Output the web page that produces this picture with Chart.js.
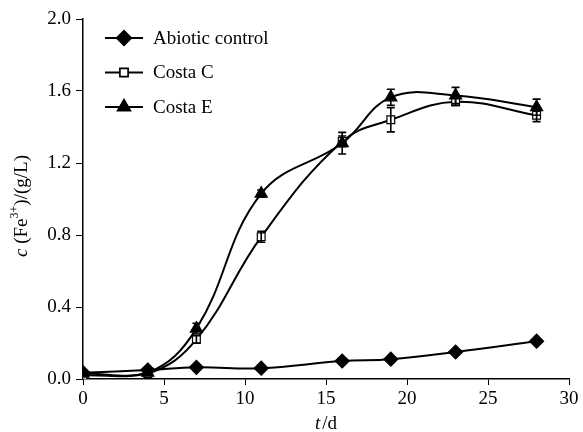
<!DOCTYPE html>
<html>
<head>
<meta charset="utf-8">
<script src="https://cdn.jsdelivr.net/npm/chart.js@4"></script>
<style>
  html, body { margin: 0; padding: 0; background: #fff; }
  #wrap { width: 583px; height: 432px; }
</style>
</head>
<body>
<div id="wrap"><canvas id="chart"></canvas></div>
<script>
// sampling days
const days = [0, 4, 7, 11, 16, 19, 23, 28];

// Fe3+ concentration, g/L
const abiotic = [0.035, 0.05, 0.065, 0.06, 0.10, 0.11, 0.15, 0.21];
const costaC = [0.02, 0.03, 0.22, 0.79, 1.32, 1.44, 1.54, 1.465];
const costaE = [0.03, 0.035, 0.28, 1.03, 1.31, 1.565, 1.575, 1.51];

// error bar half-widths
const errAbiotic = [0, 0, 0, 0, 0, 0, 0, 0];
const errC = [0, 0, 0.02, 0.03, 0.03, 0.067, 0.02, 0.035];
const errE = [0, 0, 0.03, 0.02, 0.06, 0.045, 0.045, 0.045];

const seriesLabels = ["Abiotic control", "Costa C", "Costa E"];

const FONT = "'Liberation Serif', 'Times New Roman', serif";

function toPoints(vals) {
  return days.map((d, i) => ({ x: d, y: vals[i] }));
}

// error bars drawn from the scales
const errorBars = {
  id: "errorBars",
  afterDatasetsDraw(chart) {
    const ctx = chart.ctx;
    const xs = chart.scales.x, ys = chart.scales.y;
    ctx.save();
    ctx.strokeStyle = "#000";
    ctx.lineWidth = 1.6;
    chart.data.datasets.forEach(ds => {
      if (!ds.errors) return;
      ds.data.forEach((p, i) => {
        const e = ds.errors[i];
        if (!e) return;
        const px = xs.getPixelForValue(p.x);
        const top = ys.getPixelForValue(p.y + e);
        const bot = ys.getPixelForValue(p.y - e);
        ctx.beginPath();
        ctx.moveTo(px, top); ctx.lineTo(px, bot);
        ctx.moveTo(px - 4, top); ctx.lineTo(px + 4, top);
        ctx.moveTo(px - 4, bot); ctx.lineTo(px + 4, bot);
        ctx.stroke();
      });
    });
    ctx.restore();
  }
};

// legend in the top-left corner plus the axis titles
const decorations = {
  id: "decorations",
  afterDraw(chart) {
    const ctx = chart.ctx;
    const area = chart.chartArea;
    ctx.save();
    // legend
    chart.data.datasets.forEach((ds, i) => {
      const y = 38 + i * 34.5;
      ctx.strokeStyle = "#000";
      ctx.lineWidth = 2;
      ctx.beginPath();
      ctx.moveTo(105, y); ctx.lineTo(143, y);
      ctx.stroke();
      Chart.helpers.drawPoint(ctx, {
        pointStyle: ds.pointStyle,
        radius: ds.pointRadius,
        borderWidth: 1.2
      }, 124, y);
      ctx.lineWidth = 1.2;
      ctx.fillStyle = ds.pointBackgroundColor;
      ctx.strokeStyle = "#000";
      ctx.fill();
      ctx.stroke();
      ctx.fillStyle = "#000";
      ctx.font = "19px " + FONT;
      ctx.textBaseline = "middle";
      ctx.textAlign = "left";
      ctx.fillText(ds.label, 153, y + 1);
    });

    // x title: t / d
    const cx = (area.left + area.right) / 2;
    const ty = 424;
    ctx.textBaseline = "middle";
    ctx.textAlign = "left";
    ctx.font = "italic 19px " + FONT;
    const w1 = ctx.measureText("t").width;
    ctx.font = "19px " + FONT;
    const w2 = ctx.measureText("/d").width;
    let x0 = cx - (w1 + w2 + 2) / 2;
    ctx.font = "italic 19px " + FONT;
    ctx.fillText("t", x0, ty);
    ctx.font = "19px " + FONT;
    ctx.fillText("/d", x0 + w1 + 2, ty);

    // y title: c (Fe3+)/(g/L)
    ctx.translate(22, (area.top + area.bottom) / 2 + 7);
    ctx.rotate(-Math.PI / 2);
    const parts = [
      { t: "c", f: "italic 19px " + FONT, dy: 0 },
      { t: " (Fe", f: "19px " + FONT, dy: 0 },
      { t: "3+", f: "12px " + FONT, dy: -7 },
      { t: ")/(g/L)", f: "19px " + FONT, dy: 0 }
    ];
    let total = 0;
    parts.forEach(p => { ctx.font = p.f; p.w = ctx.measureText(p.t).width; total += p.w; });
    let px = -total / 2;
    parts.forEach(p => {
      ctx.font = p.f;
      ctx.fillText(p.t, px, p.dy);
      px += p.w;
    });
    ctx.restore();
  }
};

const common = {
  borderColor: "#000",
  borderWidth: 2,
  pointBorderColor: "#000",
  pointBorderWidth: 1.2,
  tension: 0.4,
  fill: false
};

new Chart(document.getElementById("chart"), {
  type: "line",
  data: {
    datasets: [
      Object.assign({}, common, {
        label: seriesLabels[0],
        data: toPoints(abiotic),
        errors: errAbiotic,
        pointStyle: "rectRot",
        pointRadius: 7,
        pointBackgroundColor: "#000",
        order: 2
      }),
      Object.assign({}, common, {
        label: seriesLabels[1],
        data: toPoints(costaC),
        errors: errC,
        pointStyle: "rect",
        pointRadius: 5.5,
        pointBackgroundColor: "#fff",
        order: 1
      }),
      Object.assign({}, common, {
        label: seriesLabels[2],
        data: toPoints(costaE),
        errors: errE,
        pointStyle: "triangle",
        pointRadius: 7,
        pointBackgroundColor: "#000",
        order: 0
      })
    ]
  },
  options: {
    responsive: true,
    maintainAspectRatio: false,
    animation: false,
    layout: { padding: { top: 19, right: 14, left: 0, bottom: 0 } },
    plugins: {
      legend: { display: false },
      tooltip: { enabled: false }
    },
    scales: {
      x: {
        type: "linear",
        min: 0,
        max: 30,
        afterFit(scale) { scale.height = 53; },
        ticks: {
          stepSize: 5,
          color: "#000",
          padding: 3,
          font: { family: FONT, size: 19 }
        },
        grid: { drawOnChartArea: false, drawTicks: true, tickLength: 6, color: "#000", lineWidth: 1 },
        border: { color: "#000", width: 1.5 }
      },
      y: {
        min: 0,
        max: 2,
        afterFit(scale) { scale.width = 83; },
        ticks: {
          stepSize: 0.4,
          color: "#000",
          padding: 5,
          font: { family: FONT, size: 19 },
          callback: v => v.toFixed(1)
        },
        grid: { drawOnChartArea: false, drawTicks: true, tickLength: 7, color: "#000", lineWidth: 1 },
        border: { color: "#000", width: 1.5 }
      }
    }
  },
  plugins: [errorBars, decorations]
});
</script>
</body>
</html>
